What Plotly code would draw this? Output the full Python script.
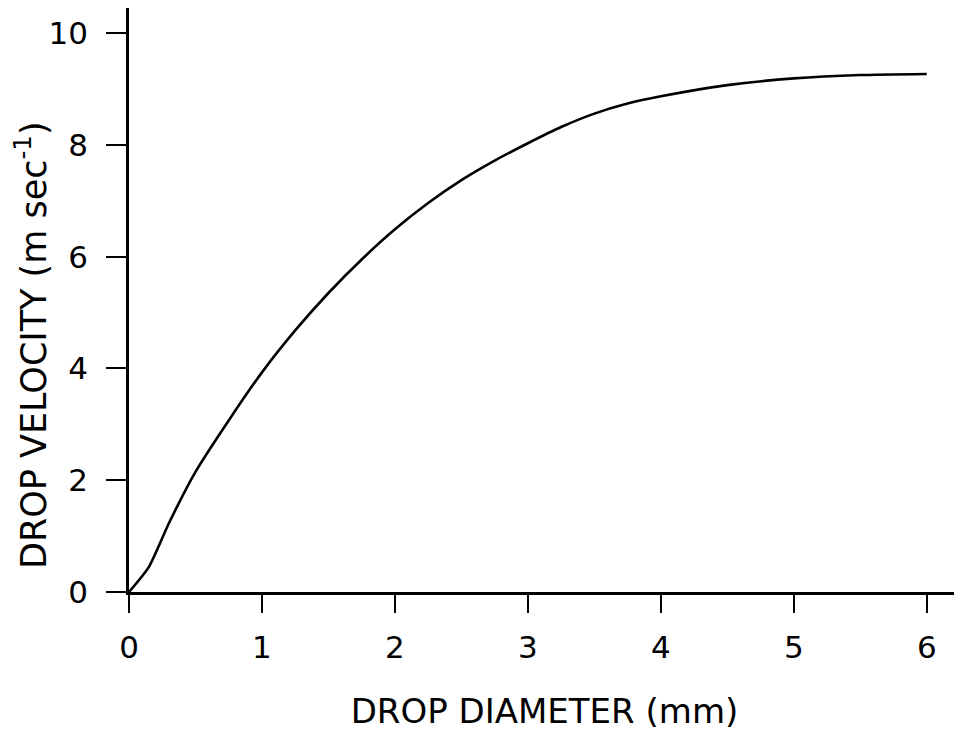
import plotly.graph_objects as go

# Drop diameter (mm) and terminal drop velocity (m/s)
diameter_mm = [0, 0.15, 0.3, 0.5, 0.75, 1.0, 1.25, 1.5, 1.75, 2.0, 2.25, 2.5,
               2.75, 3.0, 3.25, 3.5, 3.75, 4.0, 4.5, 5.0, 5.5, 6.0]
velocity_ms = [0, 0.45, 1.23, 2.15, 3.07, 3.93, 4.68, 5.35, 5.95, 6.49, 6.96, 7.37,
               7.72, 8.03, 8.32, 8.56, 8.74, 8.87, 9.07, 9.19, 9.25, 9.27]

x_ticks = [0, 1, 2, 3, 4, 5, 6]
x_tick_labels = ["0", "1", "2", "3", "4", "5", "6"]
y_ticks = [0, 2, 4, 6, 8, 10]
y_tick_labels = ["0", "2", "4", "6", "8", "10"]

fig = go.Figure()
fig.add_trace(go.Scatter(
    x=diameter_mm, y=velocity_ms, mode="lines",
    line=dict(color="black", width=2.6, shape="spline", smoothing=0.6),
    showlegend=False, hoverinfo="skip",
))

font_family = "DejaVu Sans, Liberation Sans, sans-serif"

# page body has an 8px margin, so the figure is sized to fit the 962x731 window
W, H = 954, 723
L, R, T, B = 121, 2, 0, 139

fig.update_layout(
    width=W, height=H,
    margin=dict(l=L, r=R, t=T, b=B),
    paper_bgcolor="white", plot_bgcolor="white",
    font=dict(family=font_family, color="black", size=30),
    xaxis=dict(
        range=[0, 6.25], tickvals=x_ticks, ticktext=x_tick_labels,
        showline=True, linecolor="black", linewidth=2.5,
        ticks="outside", ticklen=18, tickwidth=2, tickcolor="black",
        showgrid=False, zeroline=False, automargin=False,
        ticklabelstandoff=8,
        tickfont=dict(size=31, family=font_family),
        title=dict(text="DROP DIAMETER (mm)", font=dict(size=34, family=font_family), standoff=44),
    ),
    yaxis=dict(
        range=[0, 10.45], tickvals=y_ticks, ticktext=y_tick_labels,
        showline=True, linecolor="black", linewidth=2.5,
        ticks="outside", ticklen=20, tickwidth=2, tickcolor="black",
        showgrid=False, zeroline=False, automargin=False,
        ticklabelstandoff=12,
        tickfont=dict(size=31, family=font_family),
    ),
    annotations=[dict(
        text="DROP VELOCITY (m sec<sup>-1</sup>)",
        xref="paper", yref="paper",
        x=(23 - L) / (W - L - R), y=(H - B - 337) / (H - B - T),
        xanchor="center", yanchor="middle", textangle=-90, showarrow=False,
        font=dict(size=35, family=font_family, color="black"),
    )],
)

fig.write_html("out.html")
